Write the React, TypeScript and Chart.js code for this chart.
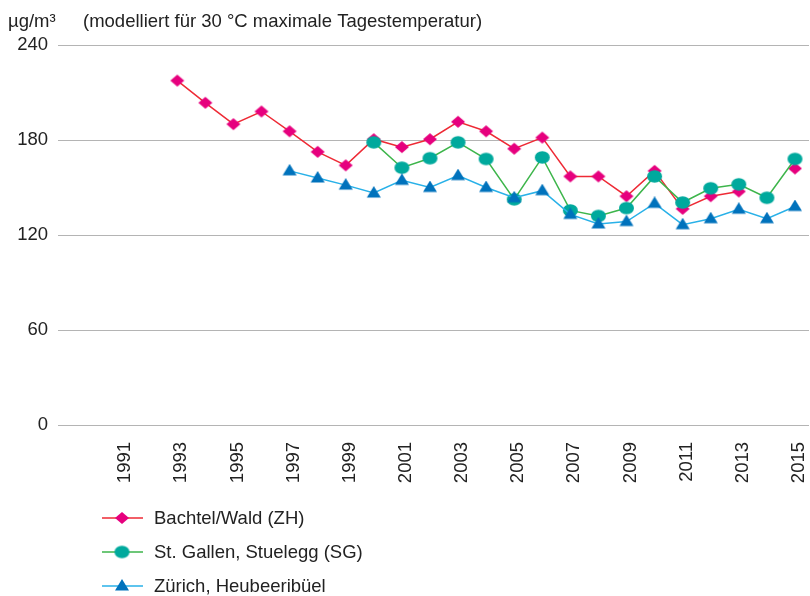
import React, { useEffect, useRef } from "react";
import { Chart, registerables } from "chart.js";

Chart.register(...registerables);

const years = [
  "1990", "1991", "1992", "1993", "1994", "1995", "1996", "1997", "1998", "1999",
  "2000", "2001", "2002", "2003", "2004", "2005", "2006", "2007", "2008", "2009",
  "2010", "2011", "2012", "2013", "2014", "2015",
];

const bachtelWald = [
  null, null, null, 217.5, 203.5, 190, 198, 185.5, 172.5, 164,
  180.5, 175.5, 180.5, 191.5, 185.5, 174.5, 181.5, 157, 157, 144.5,
  160.5, 136.5, 144.5, 147.5, null, 162,
];

const stuelegg = [
  null, null, null, null, null, null, null, null, null, null,
  178.5, 162.5, 168.5, 178.5, 168, 142.5, 169, 135.5, 132, 137,
  157, 140.5, 149.5, 152, 143.5, 168,
];

const heubeeribuel = [
  null, null, null, null, null, null, null, 160.5, 156, 151.5,
  146.5, 154.5, 150, 157.5, 150, 143.5, 148, 133, 127, 128.5,
  140, 126.5, 130.3, 136.3, 130.3, 138,
];

const yTicks = [0, 60, 120, 180, 240];

const unitLabel = "µg/m³";
const subtitle = "(modelliert für 30 °C maximale Tagestemperatur)";
const seriesNames = ["Bachtel/Wald (ZH)", "St. Gallen, Stuelegg (SG)", "Zürich, Heubeeribüel"];

const FONT = "'Liberation Sans', Arial, Helvetica, sans-serif";
const FONT_SIZE = 18.5;

function makeMarker(style: string, w: number, h: number, color: string): HTMLCanvasElement {
  const c = document.createElement("canvas");
  c.width = Math.ceil(w) + 2;
  c.height = Math.ceil(h) + 2;
  const ctx = c.getContext("2d")!;
  const cx = c.width / 2;
  const cy = c.height / 2;
  ctx.fillStyle = color;
  ctx.beginPath();
  if (style === "diamond") {
    ctx.moveTo(cx, cy - h / 2);
    ctx.lineTo(cx + w / 2, cy);
    ctx.lineTo(cx, cy + h / 2);
    ctx.lineTo(cx - w / 2, cy);
    ctx.closePath();
  } else if (style === "circle") {
    ctx.ellipse(cx, cy, w / 2, h / 2, 0, 0, Math.PI * 2);
  } else {
    ctx.moveTo(cx, cy - h * 0.6);
    ctx.lineTo(cx + w / 2, cy + h * 0.4);
    ctx.lineTo(cx - w / 2, cy + h * 0.4);
    ctx.closePath();
  }
  ctx.fill();
  return c;
}

const series = [
  { label: seriesNames[0], data: bachtelWald, line: "#ee2a35", fill: "#e6007e", style: "diamond", w: 14, h: 12, order: 2 },
  { label: seriesNames[1], data: stuelegg, line: "#3db54b", fill: "#00a99d", style: "circle", w: 15, h: 12.5, order: 1 },
  { label: seriesNames[2], data: heubeeribuel, line: "#29b1e8", fill: "#0072bc", style: "triangle", w: 14, h: 11.5, order: 0 },
];

const decorPlugin = {
  id: "decor",
  afterDraw(chart: any) {
    const ctx: CanvasRenderingContext2D = chart.ctx;
    const markers: HTMLCanvasElement[] = chart.$markers || [];
    ctx.save();
    ctx.fillStyle = "#222";
    ctx.font = `${FONT_SIZE}px ${FONT}`;
    ctx.textBaseline = "alphabetic";
    ctx.textAlign = "left";
    ctx.fillText(unitLabel, 8, 27);
    ctx.fillText(subtitle, 83, 27);

    const rows = [518, 552, 586];
    series.forEach((s, i) => {
      const y = rows[i];
      ctx.strokeStyle = s.line;
      ctx.lineWidth = 1.5;
      ctx.beginPath();
      ctx.moveTo(102, y);
      ctx.lineTo(143, y);
      ctx.stroke();
      const m = markers[i];
      if (m) ctx.drawImage(m, 122 - m.width / 2, y - m.height / 2);
      ctx.fillStyle = "#222";
      ctx.font = `${FONT_SIZE}px ${FONT}`;
      ctx.textBaseline = "middle";
      ctx.fillText(s.label, 154, y + 1);
    });
    ctx.restore();
  },
};

export default function App() {
  const canvasRef = useRef<HTMLCanvasElement | null>(null);

  useEffect(() => {
    document.body.style.margin = "0";
    const canvas = canvasRef.current;
    if (!canvas) return;
    const markers = series.map((s) => makeMarker(s.style, s.w, s.h, s.fill));
    const chart: any = new Chart(canvas, {
      type: "line",
      data: {
        labels: years,
        datasets: series.map((s, i) => ({
          label: s.label,
          data: s.data,
          borderColor: s.line,
          backgroundColor: s.fill,
          borderWidth: 1.5,
          pointStyle: markers[i] as any,
          pointRadius: 7,
          pointBackgroundColor: s.fill,
          pointBorderColor: s.fill,
          pointBorderWidth: 0,
          tension: 0,
          spanGaps: false,
          order: s.order,
          clip: false,
        })),
      },
      options: {
        animation: false,
        responsive: false,
        devicePixelRatio: 1,
        layout: { autoPadding: false, padding: { top: 45, left: 0, right: 1, bottom: 0 } },
        plugins: {
          legend: { display: false },
          tooltip: { enabled: false },
          title: { display: false },
        },
        scales: {
          x: {
            type: "category",
            offset: true,
            grid: { display: false, drawTicks: false, tickLength: 0 },
            border: { display: false },
            ticks: {
              autoSkip: false,
              maxRotation: 90,
              minRotation: 90,
              padding: 17,
              labelOffset: 4,
              color: "#222",
              font: { size: FONT_SIZE, family: FONT },
              callback: (_v: any, idx: number) => (Number(years[idx]) % 2 === 1 ? years[idx] : ""),
            },
            afterFit: (scale: any) => {
              scale.height = 171;
              scale.paddingLeft = 0;
              scale.paddingRight = 0;
            },
          },
          y: {
            min: 0,
            max: 240,
            afterBuildTicks: (scale: any) => {
              scale.ticks = yTicks.map((v) => ({ value: v }));
            },
            grid: { color: "#b4b4b4", lineWidth: 1, tickLength: 21, drawTicks: true },
            border: { display: false },
            ticks: {
              padding: 10,
              color: "#222",
              font: { size: FONT_SIZE, family: FONT },
            },
            afterFit: (scale: any) => {
              scale.width = 79;
              scale.paddingTop = 0;
              scale.paddingBottom = 0;
            },
          },
        },
      },
      plugins: [decorPlugin],
    });
    chart.$markers = markers;
    chart.draw();
    return () => chart.destroy();
  }, []);

  return (
    <div style={{ width: 810, height: 596 }}>
      <canvas ref={canvasRef} width={810} height={596} style={{ display: "block" }} />
    </div>
  );
}
